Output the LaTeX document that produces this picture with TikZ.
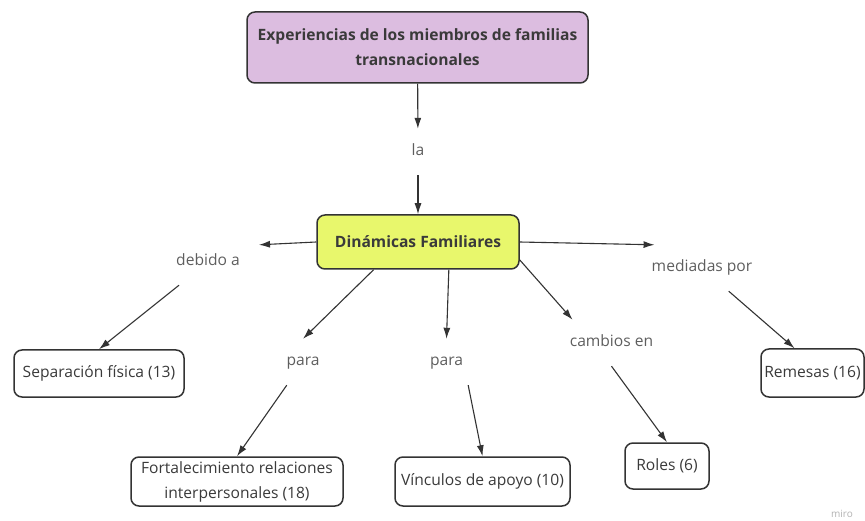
\documentclass[tikz,border=0pt]{standalone}
\usepackage{fontspec}
\setmainfont{Open Sans}
\usetikzlibrary{arrows.meta}
\definecolor{lila}{HTML}{DCBDE0}
\definecolor{limon}{HTML}{E8F76C}
\definecolor{linea}{HTML}{333333}
\definecolor{textocaja}{HTML}{3A3A3A}
\definecolor{textoenlace}{HTML}{5E5E5E}

\begin{document}
\begin{tikzpicture}
		[
		x=1pt, y=-1pt, font=\fontsize{15.6}{25}\selectfont, >={Latex[length=11pt,width=7pt]},
		%Voreinstellungen
		caja/.style={draw=linea, line width=1.5pt, rounded corners=8pt, fill=white, text=textocaja, align=center, inner sep=0pt},
		enlace/.style={text=textoenlace, text height=11pt, text depth=3pt, minimum height=46pt, inner xsep=5pt},
		flecha/.style={->, draw=linea, line width=1.1pt}
		]
		
		%Rahmen
		\useasboundingbox (0,0) rectangle (865,521);
		
		%Konzepte
		\node[caja, fill=lila, font=\fontsize{15.6}{25}\selectfont\bfseries, minimum width=341pt, minimum height=71pt] (exp) at (417.5,47.5) {Experiencias de los miembros de familias\\transnacionales};
		\node[caja, fill=limon, font=\fontsize{15.6}{25}\selectfont\bfseries, minimum width=202pt, minimum height=54pt] (din) at (418,242) {Dinámicas Familiares};
		\node[caja, minimum width=170pt, minimum height=47pt] (sep) at (99,373.5) {Separación física (13)};
		\node[caja, minimum width=212pt, minimum height=49pt] (fort) at (237,481.5) {Fortalecimiento relaciones\\interpersonales (18)};
		\node[caja, minimum width=175pt, minimum height=49pt] (vin) at (482.5,481.5) {Vínculos de apoyo (10)};
		\node[caja, minimum width=84pt, minimum height=46pt] (rol) at (667,466) {Roles (6)};
		\node[caja, minimum width=103pt, minimum height=48pt] (rem) at (812.5,373) {Remesas (16)};
		
		%Verbindungswörter
		\node[enlace] (la) at (418,152) {la};
		\node[enlace] (deb) at (208,262) {debido a};
		\node[enlace] (para1) at (303,362) {para};
		\node[enlace] (para2) at (446.5,362) {para};
		\node[enlace] (camb) at (611.5,343) {cambios en};
		\node[enlace] (med) at (702,268) {mediadas por};
		
		%Pfeile
		\draw[flecha] (exp) -- (la);
		\draw[flecha] (la) -- (din);
		\draw[flecha] (din.west) -- ([xshift=14pt,yshift=-6pt]deb.north east);
		\draw[flecha] (deb) -- (sep.north);
		\draw[flecha] (din.212) -- (para1.north);
		\draw[flecha] (para1) -- (fort.north);
		\draw[flecha] (din.-42) -- (para2.north);
		\draw[flecha] (para2.south east) -- (vin.north);
		\draw[flecha] (din.-10) -- ([xshift=8pt]camb.north west);
		\draw[flecha] (camb.south) -- (rol.north);
		\draw[flecha] (din.east) -- ([xshift=8pt]med.north west);
		\draw[flecha] (med) -- ([xshift=-18pt]rem.north);
		
		%Wasserzeichen
		\node[text=black!30, font=\fontsize{10}{12}\selectfont] (miro) at (842,514) {miro};
	\end{tikzpicture}
\end{document}
